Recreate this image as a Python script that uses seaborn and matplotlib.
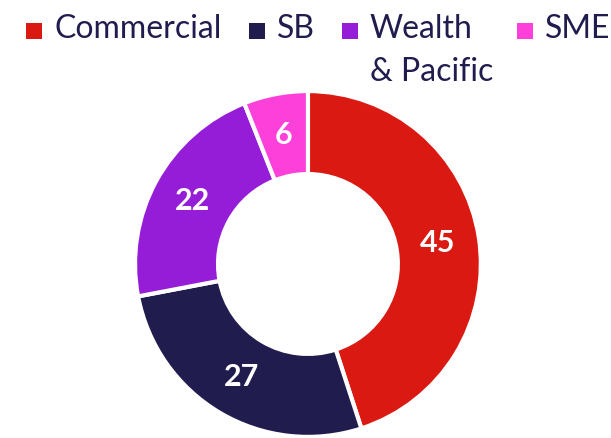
import matplotlib
matplotlib.use("Agg")
import matplotlib.pyplot as plt
from matplotlib.patches import Rectangle
import seaborn as sns

segments = ["Commercial", "SB", "Wealth\n& Pacific", "SME"]
shares = [45, 27, 22, 6]
colours = ["#DA1912", "#211C4E", "#961DD8", "#FE40DB"]
text_colour = "#211C4E"

sns.set_theme(style="white")
plt.rcParams['font.family'] = ['Lato', 'DejaVu Sans']

W, H = 611, 438
fig = plt.figure(figsize=(W / 100, H / 100), dpi=100)
ax = fig.add_axes([0.2210, 0.0023, 0.566, 0.790])

wedges, texts = ax.pie(
    shares,
    colors=sns.color_palette(colours),
    startangle=90,
    counterclock=False,
    radius=1,
    labels=[str(v) for v in shares],
    labeldistance=0.76,
    wedgeprops=dict(width=0.48, edgecolor="white", linewidth=3),
    textprops=dict(color="white", fontsize=22, fontweight="bold", ha="center", va="center"),
)
ax.set_xlim(-1, 1)
ax.set_ylim(-1, 1)
ax.set_aspect("equal")
ax.axis("off")

# legend drawn by hand so the two-line label hangs below the row
marker_x = [26, 249, 342, 517]
text_x = [54, 277, 370, 545]
baseline = 38
line_step = 43
for mx, tx, lab, col in zip(marker_x, text_x, segments, colours):
    fig.patches.append(Rectangle((mx / W, 1 - 38.5 / H), 15.5 / W, 15.5 / H,
                                 transform=fig.transFigure, facecolor=col,
                                 edgecolor="none"))
    for i, line in enumerate(lab.split("\n")):
        fig.text(tx / W, 1 - (baseline + i * line_step) / H, line,
                 ha="left", va="baseline", fontsize=23, color=text_colour)

fig.savefig("out.png", dpi=100)
